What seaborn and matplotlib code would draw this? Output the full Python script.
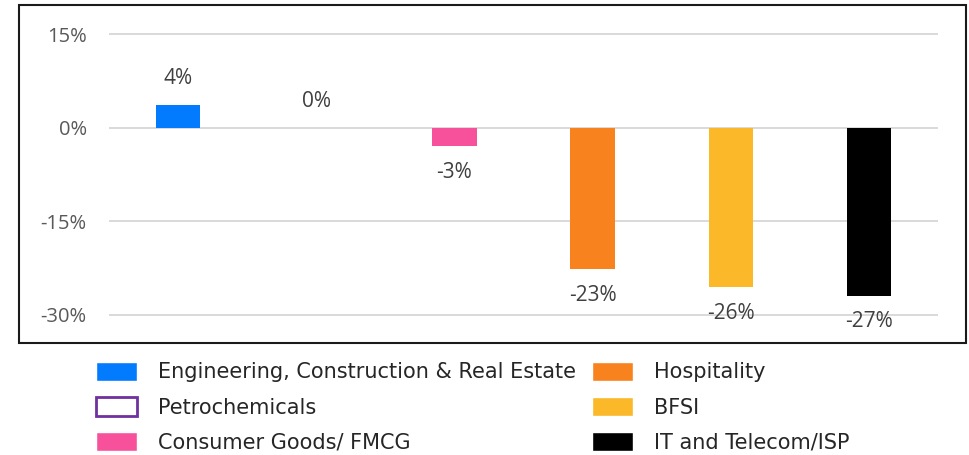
import matplotlib
matplotlib.use("Agg")
import matplotlib.pyplot as plt
import matplotlib.patches as mpatches
import seaborn as sns

# values (percent change)
categories = ["Engineering, Construction & Real Estate", "Petrochemicals",
              "Consumer Goods/ FMCG", "Hospitality", "BFSI", "IT and Telecom/ISP"]
values = [3.6, 0, -3.0, -22.6, -25.6, -26.9]
colors = ["#037BFF", "#FFFFFF", "#F8519C", "#F7821E", "#FBB829", "#000000"]
y_ticks = [15, 0, -15, -30]

sns.set_style("white")
plt.rcParams["font.family"] = ["Open Sans", "DejaVu Sans"]

fig = plt.figure(figsize=(9.69, 4.55), dpi=100)
ax = fig.add_axes([0.1125, 0.2668, 0.8555, 0.6993])

sns.barplot(x=categories, y=values, hue=categories, palette=colors,
            width=0.32, dodge=False, legend=False, saturation=1,
            linewidth=0, ax=ax)

ax.set_ylim(-33, 18)
ax.set_xlim(-0.5, 5.5)
ax.set_yticks(y_ticks)
ax.set_yticklabels([f"{t}%" for t in y_ticks], color="#595959", fontsize=14.5)
ax.tick_params(axis="y", length=0, pad=16)
ax.set_xticks([])
ax.set_xlabel("")
ax.set_ylabel("")
ax.yaxis.grid(True, color="#d9d9d9", linewidth=1.4)
ax.set_axisbelow(True)
sns.despine(ax=ax, left=True, bottom=True)

for i, v in enumerate(values):
    off = 19 if v >= 0 else -19
    ax.annotate(f"{round(v):.0f}%", xy=(i, v), xytext=(0, off),
                textcoords="offset points", ha="center", va="center",
                fontsize=15, color="#404040")

# legend
handles = []
for name, c in zip(categories, colors):
    if name == "Petrochemicals":
        handles.append(mpatches.Patch(facecolor="white", edgecolor="#7030A0",
                                      linewidth=2, label=name))
    else:
        handles.append(mpatches.Patch(facecolor=c, label=name))
fig.legend(handles=handles, ncol=2, loc="upper left",
           bbox_to_anchor=(0.088, 0.228), frameon=False, borderpad=0,
           prop={"family": "DejaVu Sans", "size": 15},
           handlelength=2.0, handleheight=1.05, handletextpad=1.0,
           columnspacing=0.75, labelspacing=0.69)

# outer chart frame
fig.patches.append(mpatches.Rectangle((0.0196, 0.2462), 0.9773, 0.7428,
                                      transform=fig.transFigure, fill=False,
                                      edgecolor="#1a1a1a", linewidth=1.5))

fig.savefig("out.png", dpi=100)
